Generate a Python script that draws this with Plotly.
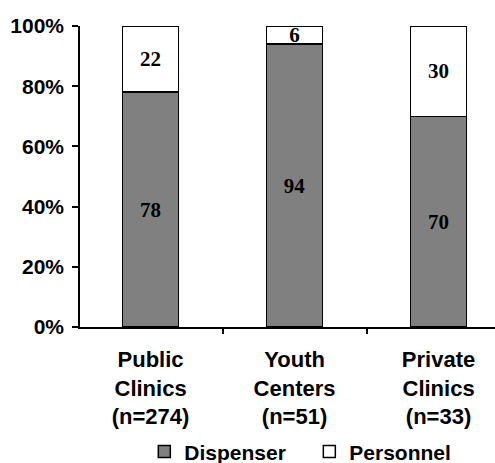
import plotly.graph_objects as go

categories = ["Public<br>Clinics<br>(n=274)", "Youth<br>Centers<br>(n=51)", "Private<br>Clinics<br>(n=33)"]
dispenser = [78, 94, 70]
personnel = [22, 6, 30]
y_ticks = [0, 20, 40, 60, 80, 100]
y_tick_labels = [f"{v}%" for v in y_ticks]

label_font = dict(family="Liberation Serif, Times New Roman, serif", size=21, color="black", weight="bold")

fig = go.Figure()
fig.add_trace(go.Bar(
    x=categories, y=dispenser, name="Dispenser",
    marker=dict(color="#808080", line=dict(color="black", width=1.5)),
    text=[str(v) for v in dispenser], textposition="inside", insidetextanchor="middle",
    textangle=0, textfont=label_font, width=0.39,
))
fig.add_trace(go.Bar(
    x=categories, y=personnel, name="Personnel",
    marker=dict(color="white", line=dict(color="black", width=1.5)),
    text=[str(v) for v in personnel], textposition="inside", insidetextanchor="middle",
    textangle=0, textfont=label_font, width=0.39,
))

fig.update_layout(
    barmode="stack",
    width=495, height=463,
    margin=dict(l=80, r=0, t=26, b=136, autoexpand=False),
    plot_bgcolor="white", paper_bgcolor="white",
    font=dict(family="Liberation Sans, Arial, sans-serif", size=20, color="black", weight="bold"),
    uniformtext=dict(minsize=21, mode="show"),
    showlegend=True,
    legend=dict(orientation="h", x=0.155, xanchor="left", y=-0.415, yanchor="middle",
                font=dict(size=21), itemwidth=30, traceorder="normal", tracegroupgap=0,
                entrywidth=120, entrywidthmode="pixels"),
    xaxis=dict(range=[-0.49, 2.392], showline=True, linecolor="black", linewidth=1.5,
               ticks="outside", tickson="boundaries", ticklen=5, tickcolor="black", tickwidth=1.5,
               showgrid=False, tickfont=dict(size=22), ticklabelstandoff=12, automargin=False),
    yaxis=dict(range=[0, 100], tickvals=y_ticks, ticktext=y_tick_labels, showline=True, linecolor="black",
               linewidth=1.5, ticks="outside", ticklen=6, tickcolor="black", tickwidth=1.5,
               showgrid=False, zeroline=False, tickfont=dict(size=21), ticklabelstandoff=4,
               automargin=False),
)

fig.write_html("out.html")
